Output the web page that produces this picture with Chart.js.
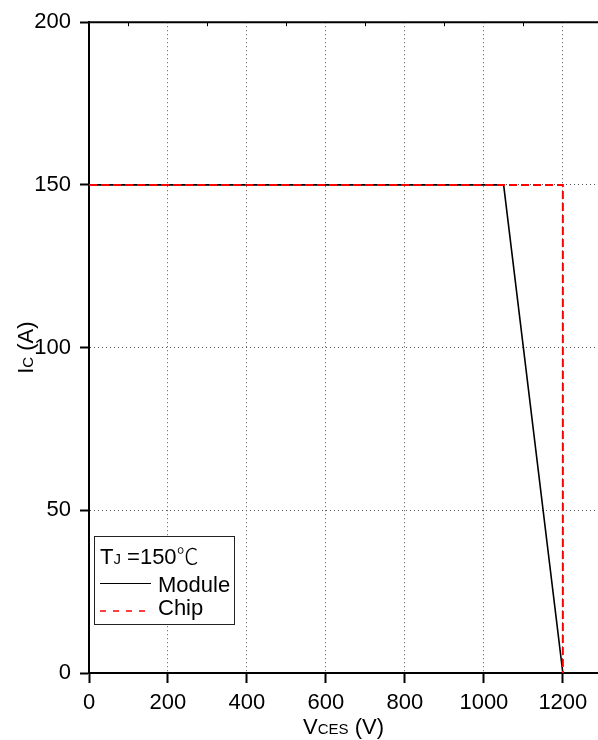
<!DOCTYPE html>
<html><head><meta charset="utf-8">
<script src="https://cdn.jsdelivr.net/npm/chart.js@4/dist/chart.umd.min.js"></script>
<style>html,body{margin:0;padding:0;background:#fff;overflow:hidden}#wrap{width:598px;height:740px;position:relative}</style>
</head><body><div id="wrap"><canvas id="c" width="598" height="740"></canvas></div>
<script>
// ---- data ----
const vceTickValues = [0, 200, 400, 600, 800, 1000, 1200];
const icTickValues = [0, 50, 100, 150, 200];
const moduleVce = [0, 1050, 1200];
const moduleIc = [150, 150, 0];
const chipVce = [0, 1200, 1200];
const chipIc = [150, 150, 0];
const seriesNames = ['Module', 'Chip'];
const legendHeader = { main: 'T', sub: 'J', rest: ' =150', unit: '℃' };
const xTitle = { main: 'V', sub: 'CES', rest: ' (V)' };
const yTitle = { main: 'I', sub: 'C', rest: ' (A)' };

const FONT = "'Liberation Sans', Arial, sans-serif";
Chart.defaults.font.family = FONT;
Chart.defaults.color = '#000';

function pts(xs, ys) { return xs.map((x, i) => ({ x: x, y: ys[i] })); }

function drawRich(ctx, parts, x, y, align) {
  let w = 0;
  parts.forEach(p => { ctx.font = p.font; w += ctx.measureText(p.t).width; });
  let cx = align === 'center' ? x - w / 2 : x;
  ctx.textBaseline = 'alphabetic';
  ctx.textAlign = 'left';
  parts.forEach(p => { ctx.font = p.font; ctx.fillText(p.t, cx, y); cx += ctx.measureText(p.t).width; });
}

const decor = {
  id: 'decor',
  afterDraw(chart) {
    const ctx = chart.ctx, a = chart.chartArea, xs = chart.scales.x;
    ctx.save();
    ctx.fillStyle = '#000';
    // top border
    ctx.strokeStyle = '#000'; ctx.lineWidth = 2; ctx.setLineDash([]);
    ctx.beginPath(); ctx.moveTo(a.left - 1, a.top); ctx.lineTo(chart.width, a.top); ctx.stroke();
    // minor ticks on top border
    ctx.lineWidth = 1;
    for (let v = 100; v < xs.max; v += 200) {
      const px = Math.round(xs.getPixelForValue(v)) + 0.5;
      ctx.beginPath(); ctx.moveTo(px, a.top); ctx.lineTo(px, a.top + 4); ctx.stroke();
    }
    // axis titles
    const big = '22px ' + FONT, small = '15px ' + FONT;
    drawRich(ctx, [{ t: xTitle.main, font: big }, { t: xTitle.sub, font: small }, { t: xTitle.rest, font: big }],
      (a.left + a.right) / 2, 734, 'center');
    ctx.save();
    ctx.translate(33, (a.top + a.bottom) / 2);
    ctx.rotate(-Math.PI / 2);
    drawRich(ctx, [{ t: yTitle.main, font: big }, { t: yTitle.sub, font: small }, { t: yTitle.rest, font: big }], 0, 0, 'center');
    ctx.restore();
    // legend box
    const lx = 94.5, ly = 536.5, lw = 140, lh = 88;
    ctx.fillStyle = '#fff'; ctx.fillRect(lx, ly, lw, lh);
    ctx.strokeStyle = '#222'; ctx.lineWidth = 1; ctx.strokeRect(lx, ly, lw, lh);
    ctx.fillStyle = '#000';
    drawRich(ctx, [{ t: legendHeader.main, font: '22px ' + FONT }, { t: legendHeader.sub, font: '15px ' + FONT },
      { t: legendHeader.rest, font: '22px ' + FONT }, { t: legendHeader.unit, font: "300 22px 'Noto Sans CJK SC', sans-serif" }], 100, 564, 'left');
    const dsets = chart.data.datasets;
    const mod = dsets.find(d => d.label === seriesNames[0]);
    const chp = dsets.find(d => d.label === seriesNames[1]);
    ctx.strokeStyle = mod.borderColor; ctx.lineWidth = 1.2; ctx.setLineDash([]);
    ctx.beginPath(); ctx.moveTo(100, 583.5); ctx.lineTo(151, 583.5); ctx.stroke();
    ctx.strokeStyle = chp.borderColor; ctx.lineWidth = 1.5; ctx.setLineDash([6, 7]);
    ctx.beginPath(); ctx.moveTo(100, 611); ctx.lineTo(147, 611); ctx.stroke();
    ctx.setLineDash([]);
    ctx.font = '22px ' + FONT; ctx.textAlign = 'left'; ctx.textBaseline = 'alphabetic';
    ctx.fillText(mod.label, 158, 592);
    ctx.fillText(chp.label, 158, 615);
    ctx.restore();
  }
};

new Chart(document.getElementById('c'), {
  type: 'line',
  data: {
    datasets: [
      { label: seriesNames[1], data: pts(chipVce, chipIc), borderColor: '#ff0000', borderWidth: 2, borderDash: [8, 4],
        pointRadius: 0, fill: false, tension: 0 },
      { label: seriesNames[0], data: pts(moduleVce, moduleIc), borderColor: '#000000', borderWidth: 1.6,
        pointRadius: 0, fill: false, tension: 0 }
    ]
  },
  options: {
    responsive: false,
    animation: false,
    layout: { padding: { top: 20, right: 0, left: 0, bottom: 0 } },
    plugins: { legend: { display: false }, tooltip: { enabled: false } },
    scales: {
      x: {
        type: 'linear', min: 0, max: 1289,
        afterFit(s) { s.height = 67; },
        afterBuildTicks(s) { s.ticks = vceTickValues.map(v => ({ value: v })); },
        ticks: { font: { size: 22 }, color: '#000', padding: 7, autoSkip: false, maxRotation: 0,
          callback: v => String(v) },
        grid: { color: '#555', lineWidth: 1, tickLength: 10, tickColor: '#000', tickWidth: 2 },
        border: { color: '#000', width: 2, dash: [1, 3] }
      },
      y: {
        type: 'linear', min: 0, max: 200,
        afterFit(s) { s.width = 89; },
        afterBuildTicks(s) { s.ticks = icTickValues.map(v => ({ value: v })); },
        ticks: { font: { size: 22 }, color: '#000', padding: 9, callback: v => String(v) },
        grid: { color: '#555', lineWidth: 1, tickLength: 9, tickColor: '#000', tickWidth: 2 },
        border: { color: '#000', width: 2, dash: [1, 3] }
      }
    }
  },
  plugins: [decor]
});
</script>
</body></html>
